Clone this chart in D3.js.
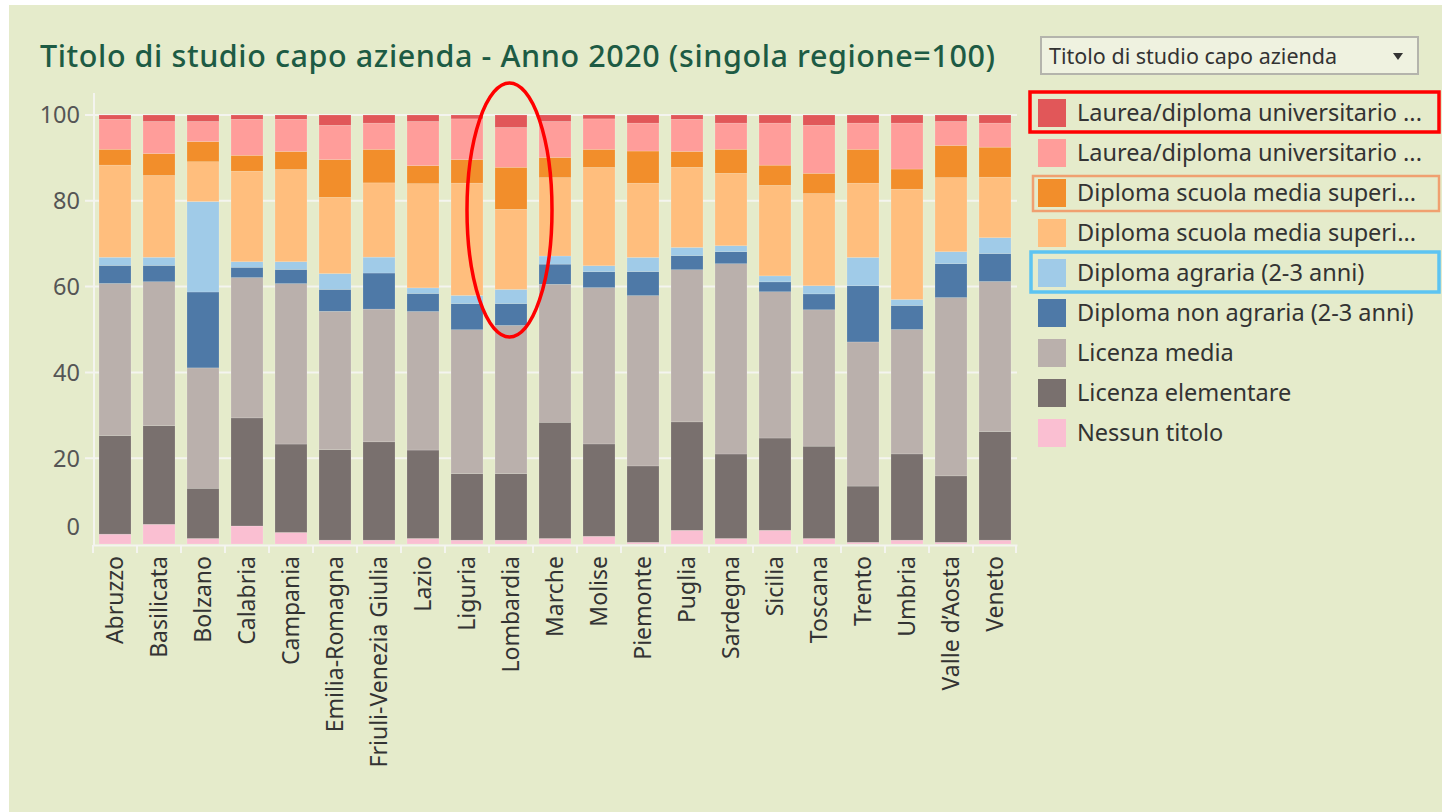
<!DOCTYPE html>
<html>
<head>
<meta charset="utf-8">
<script src="https://cdn.jsdelivr.net/npm/d3@7"></script>
<style>
  html, body { margin: 0; padding: 0; background: #ffffff; }
  svg { display: block; }
  text { font-family: "Noto Sans", "Open Sans", sans-serif; }
</style>
</head>
<body>
<svg id="chart" width="1442" height="812"></svg>
<script>
// ---------------- DATA ----------------
const regions = ["Abruzzo","Basilicata","Bolzano","Calabria","Campania","Emilia-Romagna",
  "Friuli-Venezia Giulia","Lazio","Liguria","Lombardia","Marche","Molise","Piemonte",
  "Puglia","Sardegna","Sicilia","Toscana","Trento","Umbria","Valle d\u2019Aosta","Veneto"];

// stacked from bottom to top
const nessunTitolo       = [2.3,4.6,1.3,4.2,2.7,0.9,0.9,1.3,0.9,0.9,1.3,1.8,0.4,3.2,1.3,3.2,1.3,0.4,0.9,0.4,0.9];
const licenzaElementare  = [23.0,23.0,11.7,25.2,20.6,21.1,22.9,20.6,15.5,15.5,27.1,21.5,17.8,25.3,19.7,21.5,21.5,13.1,20.1,15.5,25.3];
const licenzaMedia       = [35.5,33.6,28.1,32.7,37.4,32.3,30.9,32.3,33.6,34.6,32.2,36.4,39.7,35.5,44.4,34.1,31.8,33.6,29.0,41.6,35.0];
const diplomaNonAgraria  = [4.2,3.8,17.7,2.4,3.3,5.1,8.4,4.2,6.1,5.1,4.7,3.7,5.6,3.3,2.8,2.3,3.7,13.1,5.6,7.9,6.5];
const diplomaAgraria     = [1.9,1.9,21.1,1.3,1.8,3.7,3.7,1.3,1.9,3.3,1.9,1.4,3.3,1.9,1.4,1.4,1.9,6.6,1.4,2.8,3.7];
const scuolaSuperiore2   = [21.5,19.1,9.3,21.1,21.5,17.8,17.3,24.3,26.2,18.7,18.3,22.9,17.3,18.7,16.9,21.1,21.5,17.3,25.7,17.3,14.1];
const scuolaSuperiore1   = [3.7,5.1,4.7,3.7,4.2,8.8,7.8,4.2,5.5,9.8,4.7,4.2,7.5,3.7,5.6,4.7,4.7,7.9,4.7,7.5,7.0];
const laurea2            = [7.0,7.5,4.7,8.4,7.5,8.0,6.1,10.3,9.5,9.3,8.4,7.1,6.5,7.5,6.1,9.8,11.2,6.1,10.7,5.6,5.6];
const laurea1            = [1.0,1.5,1.5,1.0,1.0,2.4,1.9,1.5,0.9,2.9,1.5,0.9,1.9,1.0,1.9,1.9,2.4,1.9,1.9,1.5,1.9];

// legend order (top to bottom)
const seriesKeys   = ["laurea1","laurea2","scuola1","scuola2","agraria","nonAgraria","media","elementare","nessun"];
const seriesLabels = ["Laurea/diploma universitario ...","Laurea/diploma universitario ...",
  "Diploma scuola media superi...","Diploma scuola media superi...","Diploma agraria (2-3 anni)",
  "Diploma non agraria (2-3 anni)","Licenza media","Licenza elementare","Nessun titolo"];
const seriesColors = ["#e15759","#ff9d9a","#f28e2b","#ffbe7d","#a0cbe8","#4e79a7","#bab0ac","#79706e","#fabfd2"];
const yTicks = [0,20,40,60,80,100];

const titleText = "Titolo di studio capo azienda - Anno 2020 (singola regione=100)";
const dropdownText = "Titolo di studio capo azienda";

// ---------------- BUILD ----------------
const rows = regions.map((r,i) => ({
  region: r,
  nessun: nessunTitolo[i], elementare: licenzaElementare[i], media: licenzaMedia[i],
  nonAgraria: diplomaNonAgraria[i], agraria: diplomaAgraria[i],
  scuola2: scuolaSuperiore2[i], scuola1: scuolaSuperiore1[i],
  laurea2: laurea2[i], laurea1: laurea1[i]
}));
const stackOrder = seriesKeys.slice().reverse();
const color = d3.scaleOrdinal().domain(seriesKeys).range(seriesColors);
const stacked = d3.stack().keys(stackOrder).offset(d3.stackOffsetExpand)(rows);

const svg = d3.select("#chart");
svg.append("rect").attr("x",9).attr("y",5).attr("width",1433).attr("height",807).attr("fill","#e5ebcb");

const x = d3.scaleBand().domain(regions).range([93,1017]).paddingInner(0.273).paddingOuter(0.1365);
const y = d3.scaleLinear().domain([0,100]).range([544,115]);

// title
svg.append("text").attr("x",40).attr("y",67).attr("font-size",30.5).attr("font-weight",500)
  .attr("fill","#1d5b44").attr("textLength",955).attr("lengthAdjust","spacing").text(titleText);

// gridlines
const grid = svg.append("g");
grid.selectAll("line").data(yTicks.filter(t=>t>0)).join("line")
  .attr("x1",85).attr("x2",1017).attr("y1",d=>y(d)).attr("y2",d=>y(d))
  .attr("stroke","#f4f4ef").attr("stroke-width",2);

// y axis line
svg.append("line").attr("x1",94).attr("x2",94).attr("y1",93).attr("y2",545)
  .attr("stroke","#f4f4ef").attr("stroke-width",2);

// y labels
svg.append("g").selectAll("text").data(yTicks).join("text")
  .attr("x",80).attr("y",d => d===0 ? y(d)-17 : y(d))
  .attr("dy","0.36em").attr("text-anchor","end").attr("font-size",23.5)
  .attr("fill","#555").text(d=>d);

// bars
svg.append("g").selectAll("g").data(stacked).join("g")
  .attr("fill", d => color(d.key))
  .selectAll("rect").data(d=>d).join("rect")
  .attr("x", d => x(d.data.region))
  .attr("width", x.bandwidth())
  .attr("y", d => y(d[1]*100))
  .attr("height", d => y(d[0]*100) - y(d[1]*100))
  .attr("stroke","rgba(255,255,255,0.25)").attr("stroke-width",0.6);

// x axis
const xAxis = svg.append("g").attr("transform","translate(0,545)")
  .call(d3.axisBottom(x).tickSize(0).tickFormat(""));
xAxis.select(".domain").attr("stroke","#f4f4ef").attr("stroke-width",2);
const step = x.step();
svg.append("g").selectAll("line").data(regions).join("line")
  .attr("x1", d => x(d) - (step - x.bandwidth())/2).attr("x2", d => x(d) - (step - x.bandwidth())/2)
  .attr("y1",545).attr("y2",553).attr("stroke","#f4f4ef").attr("stroke-width",2);
svg.append("line").attr("x1",1016).attr("x2",1016).attr("y1",545).attr("y2",553).attr("stroke","#f4f4ef").attr("stroke-width",2);

svg.append("g").selectAll("text").data(regions).join("text")
  .attr("transform", d => `translate(${x(d)+x.bandwidth()/2},556) rotate(-90)`)
  .attr("text-anchor","end").attr("dy","0.36em").attr("font-size",23).attr("fill","#333")
  .text(d=>d);

// dropdown
svg.append("rect").attr("x",1041).attr("y",37).attr("width",377).attr("height",37)
  .attr("fill","#eff2e0").attr("stroke","#b4b4ac").attr("stroke-width",2);
svg.append("text").attr("x",1049).attr("y",56).attr("dy","0.36em").attr("font-size",21.5)
  .attr("fill","#333").text(dropdownText);
svg.append("path").attr("d","M1393,53 L1403,53 L1398,60 Z").attr("fill","#333");

// legend
const legend = svg.append("g").selectAll("g").data(seriesKeys).join("g")
  .attr("transform",(d,i)=>`translate(1038,${99 + i*40})`);
legend.append("rect").attr("width",28).attr("height",28).attr("fill",d=>color(d));
legend.append("text").attr("x",39).attr("y",14).attr("dy","0.36em").attr("font-size",23.5)
  .attr("fill","#333").text((d,i)=>seriesLabels[i]);

// annotations
svg.append("ellipse").attr("cx",509.5).attr("cy",210).attr("rx",42.5).attr("ry",127)
  .attr("fill","none").attr("stroke","#ff0000").attr("stroke-width",3.5);
svg.append("rect").attr("x",1030).attr("y",92).attr("width",409).attr("height",40)
  .attr("fill","none").attr("stroke","#ff0000").attr("stroke-width",3.5);
svg.append("rect").attr("x",1033).attr("y",176).attr("width",406).attr("height",35)
  .attr("fill","none").attr("stroke","#f0a070").attr("stroke-width",2.5);
svg.append("rect").attr("x",1031).attr("y",252).attr("width",408).attr("height",40)
  .attr("fill","none").attr("stroke","#5cc4f2").attr("stroke-width",3.5);
</script>
</body>
</html>
